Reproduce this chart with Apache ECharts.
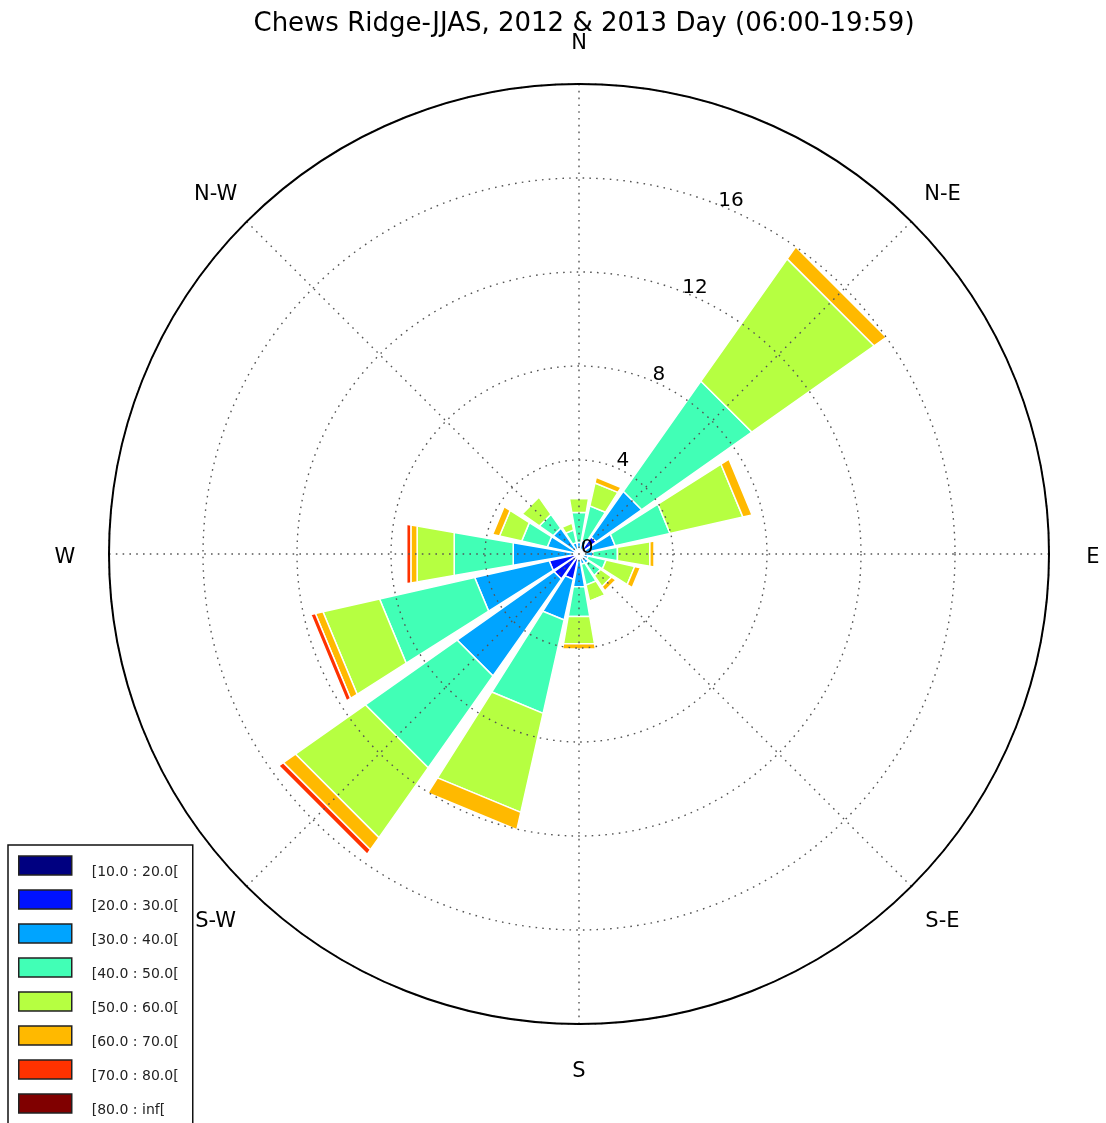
<!DOCTYPE html>
<html>
<head>
<meta charset="utf-8">
<title>Chews Ridge wind rose</title>
<script src="https://cdn.jsdelivr.net/npm/echarts@6/dist/echarts.min.js"></script>
<style>
  html, body { margin: 0; padding: 0; background: #ffffff; }
  #chart { width: 1106px; height: 1123px; }
</style>
</head>
<body>
<div id="chart"></div>
<script>
// Wind directions, clockwise from north
const directions = ['N', 'NNE', 'NE', 'ENE', 'E', 'ESE', 'SE', 'SSE', 'S', 'SSW', 'SW', 'WSW', 'W', 'WNW', 'NW', 'NNW'];

// Speed classes and their jet colours
const speedBins = ['[10.0 : 20.0[', '[20.0 : 30.0[', '[30.0 : 40.0[', '[40.0 : 50.0[', '[50.0 : 60.0[', '[60.0 : 70.0[', '[70.0 : 80.0[', '[80.0 : inf['];
const binColors = ['#000080', '#0012ff', '#00a4ff', '#41ffb6', '#b6ff41', '#ffb900', '#ff3200', '#800000'];

// Frequency (%) of each speed class, one value per direction (N .. NNW)
const freq10to20 = [0.05, 0.05, 0.05, 0.05, 0.05, 0.05, 0.05, 0.05, 0.05, 0.05, 0.05, 0.05, 0.05, 0.05, 0.05, 0.05];
const freq20to30 = [0.10, 0.10, 0.85, 0.25, 0.10, 0.10, 0.10, 0.10, 0.15, 1.05, 1.25, 1.25, 0.15, 0.10, 0.10, 0.10];
const freq30to40 = [0.35, 0.45, 2.37, 1.28, 0.45, 0.25, 0.35, 0.30, 1.21, 1.78, 5.05, 3.25, 2.64, 1.23, 1.20, 0.35];
const freq40to50 = [1.29, 1.50, 5.73, 2.39, 1.06, 0.78, 0.63, 0.91, 1.29, 4.07, 4.78, 4.15, 2.55, 1.12, 0.72, 0.55];
const freq50to60 = [0.61, 1.00, 6.37, 3.18, 1.40, 1.25, 0.57, 0.70, 1.18, 4.32, 3.64, 2.47, 1.60, 0.97, 0.89, 0.30];
const freq60to70 = [0.05, 0.25, 0.63, 0.40, 0.18, 0.25, 0.22, 0.06, 0.22, 0.76, 0.63, 0.33, 0.27, 0.30, 0.00, 0.00];
const freq70to80 = [0.00, 0.00, 0.00, 0.00, 0.00, 0.00, 0.00, 0.00, 0.00, 0.00, 0.24, 0.20, 0.18, 0.00, 0.00, 0.00];
const freq80toInf = [0, 0, 0, 0, 0, 0, 0, 0, 0, 0, 0, 0, 0, 0, 0, 0];

// Radial ticks and compass labels
const radiusTicks = [0, 4, 8, 12, 16];
const radiusMax = 20;
const compassLabels = ['N', 'N-E', 'E', 'S-E', 'S', 'S-W', 'W', 'N-W'];
const compassAngles = [0, 45, 90, 135, 180, 225, 270, 315];

const binValues = [freq10to20, freq20to30, freq30to40, freq40to50, freq50to60, freq60to70, freq70to80, freq80toInf];

const FONT = '"DejaVu Sans", "Liberation Sans", sans-serif';
const sectorStep = 360 / directions.length;
const halfOpening = 9.8;          // half width of each petal, degrees
const radialLabelAngle = 22.5;    // radial tick labels sit along this bearing

function normAngle(a) { return ((a % 360) + 360) % 360; }

// cumulative base of each speed class in each direction
const bases = [];
directions.forEach(function (d, i) {
  let acc = 0;
  binValues.forEach(function (vals, b) {
    if (!bases[b]) bases[b] = [];
    bases[b][i] = acc;
    acc += vals[i];
  });
});

// stacked petals drawn as straight-edged wedges
const petalSeries = speedBins.map(function (name, b) {
  return {
    name: name,
    type: 'custom',
    coordinateSystem: 'polar',
    z: 2,
    silent: true,
    itemStyle: { color: binColors[b] },
    encode: { angle: 0, radius: 1 },
    data: directions.map(function (d, i) {
      return [i * sectorStep, bases[b][i] + binValues[b][i], bases[b][i]];
    }),
    renderItem: function (params, api) {
      const ang = api.value(0);
      const top = api.value(1);
      const base = api.value(2);
      if (!(top - base > 0)) return null;
      const a0 = normAngle(ang - halfOpening);
      const a1 = normAngle(ang + halfOpening);
      return {
        type: 'polygon',
        shape: {
          points: [
            api.coord([base, a0]),
            api.coord([top, a0]),
            api.coord([top, a1]),
            api.coord([base, a1])
          ]
        },
        style: { fill: binColors[b], stroke: '#ffffff', lineWidth: 1.5 }
      };
    }
  };
});

// radial tick labels along the 22.5 degree bearing
const radialLabelSeries = {
  type: 'custom',
  coordinateSystem: 'polar',
  silent: true,
  z: 12,
  encode: { radius: 0, angle: 1 },
  data: radiusTicks.map(function (t) { return [t, radialLabelAngle]; }),
  renderItem: function (params, api) {
    const p = api.coord([api.value(0), api.value(1)]);
    return {
      type: 'text',
      x: p[0] + 8,
      y: p[1] - 6,
      style: {
        text: String(radiusTicks[params.dataIndex]),
        fill: '#000000',
        font: '20px ' + FONT,
        align: 'center',
        verticalAlign: 'middle'
      }
    };
  }
};

// compass labels just outside the outer ring
const compassSeries = {
  type: 'custom',
  coordinateSystem: 'polar',
  silent: true,
  z: 12,
  encode: { radius: 0, angle: 1 },
  data: compassAngles.map(function (a) { return [radiusMax, a]; }),
  renderItem: function (params, api) {
    const c = api.coord([0, api.value(1)]);
    const p = api.coord([api.value(0), api.value(1)]);
    const dx = p[0] - c[0], dy = p[1] - c[1];
    const len = Math.sqrt(dx * dx + dy * dy) || 1;
    return {
      type: 'text',
      x: p[0] + dx / len * 44,
      y: p[1] + dy / len * 44 + 4,
      style: {
        text: compassLabels[params.dataIndex],
        fill: '#000000',
        font: '21px ' + FONT,
        align: 'center',
        verticalAlign: 'middle'
      }
    };
  }
};

const chart = echarts.init(document.getElementById('chart'), null, { renderer: 'canvas' });

chart.setOption({
  animation: false,
  backgroundColor: '#ffffff',
  title: {
    text: 'Chews Ridge-JJAS, 2012 & 2013 Day (06:00-19:59)',
    left: 579,
    top: 6,
    textAlign: 'center',
    textStyle: { fontFamily: FONT, fontSize: 26, fontWeight: 'normal', color: '#000000' }
  },
  legend: {
    orient: 'vertical',
    left: 8,
    top: 845,
    height: 400,
    padding: [6.5, 11, 6.5, 10],
    borderColor: '#111111',
    borderWidth: 1.5,
    backgroundColor: '#ffffff',
    itemWidth: 53,
    itemHeight: 19,
    itemGap: 6,
    icon: 'rect',
    selectedMode: false,
    itemStyle: { borderColor: '#222222', borderWidth: 1.5 },
    // a blank first line drops each label slightly below its swatch centre
    formatter: function (name) { return '\n' + name; },
    textStyle: {
      fontFamily: FONT,
      fontSize: 14,
      color: '#222222',
      lineHeight: 14,
      width: 90,
      padding: [0, 0, 0, 15]
    },
    data: speedBins
  },
  polar: {
    center: [579, 554],
    radius: 470
  },
  angleAxis: {
    type: 'value',
    min: 0,
    max: 360,
    interval: 45,
    startAngle: 90,
    clockwise: true,
    z: 10,
    axisLine: { show: true, lineStyle: { color: '#000000', width: 2 } },
    axisTick: { show: false },
    axisLabel: { show: false },
    splitLine: { show: true, lineStyle: { color: '#555555', width: 1.4, type: [1.6, 5.2] } }
  },
  radiusAxis: {
    type: 'value',
    min: 0,
    max: radiusMax,
    interval: 4,
    z: 10,
    axisLine: { show: false },
    axisTick: { show: false },
    axisLabel: { show: false },
    splitLine: { show: true, lineStyle: { color: '#555555', width: 1.4, type: [1.6, 5.2] } }
  },
  series: petalSeries.concat([radialLabelSeries, compassSeries])
});
</script>
</body>
</html>
